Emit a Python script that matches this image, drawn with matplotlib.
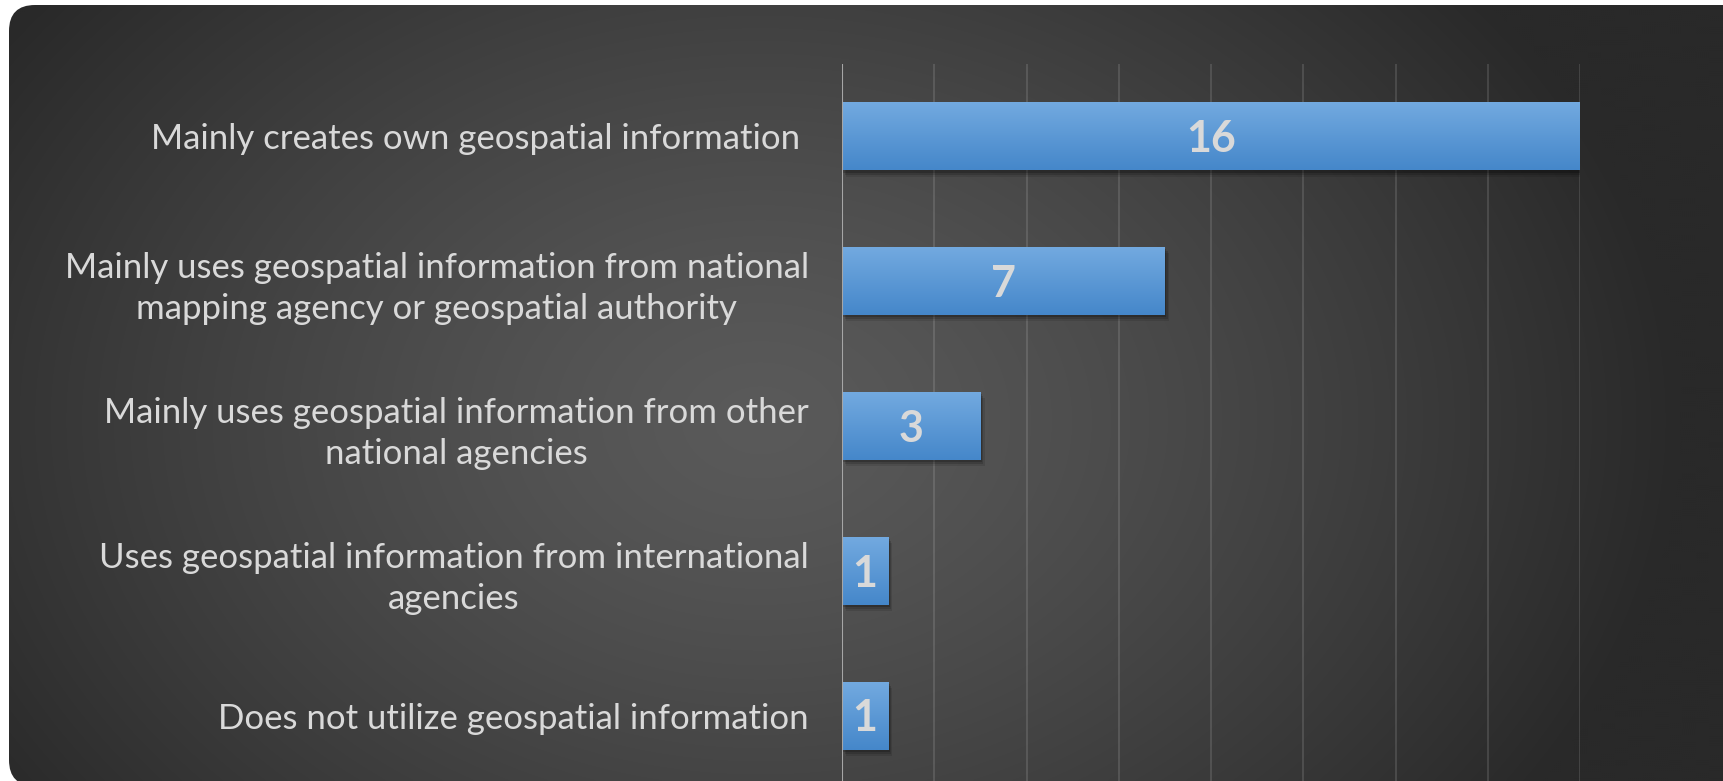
import numpy as np
import matplotlib
matplotlib.use("Agg")
import matplotlib.pyplot as plt
from matplotlib.patches import FancyBboxPatch
import matplotlib.patheffects as pe

# data
categories = [
    "Mainly creates own geospatial information ",
    "Mainly uses geospatial information from national\nmapping agency or geospatial authority",
    "Mainly uses geospatial information from other\nnational agencies",
    "Uses geospatial information from international\nagencies",
    "Does not utilize geospatial information",
]
counts = [16, 7, 3, 1, 1]

W, H = 1723, 781
plt.rcParams['font.family'] = ['Lato', 'DejaVu Sans']

fig = plt.figure(figsize=(W / 100, H / 100), dpi=100, facecolor='white')

# background panel with radial gradient
bg = fig.add_axes([0, 0, 1, 1], zorder=-5)
bg.set_xlim(0, W)
bg.set_ylim(H, 0)
bg.axis('off')
yy, xx = np.mgrid[0:H:2, 0:W:2]
d = np.sqrt(((xx - 760) / 920.0) ** 2 + ((yy - 420) / 680.0) ** 2)
f = np.clip(d, 0, 1) ** 1.3
shade = (90 - 49 * f) / 255.0
img = np.dstack([shade, shade, shade])
panel = FancyBboxPatch((9, 5), W + 60, H, boxstyle="round,pad=0,rounding_size=26",
                       facecolor='none', edgecolor='none', transform=bg.transData)
bg.add_patch(panel)
im = bg.imshow(img, extent=(0, W, H, 0), aspect='auto', interpolation='bilinear')
im.set_clip_path(panel)

# main chart
ax = fig.add_axes([842 / W, -7 / H, (1580 - 842) / W, 724 / H])
ax.patch.set_alpha(0)
y = np.arange(len(categories))
bar_h = 0.47
bars = ax.barh(y, counts, height=bar_h, color='#5b9bd5', zorder=3)

top_c = np.array([0x73, 0xaa, 0xe0]) / 255.0
bot_c = np.array([0x45, 0x87, 0xca]) / 255.0
t = np.linspace(0, 1, 64)[:, None, None]
grad = top_c * (1 - t) + bot_c * t
for b, v, yi in zip(bars, counts, y):
    b.set_path_effects([
        pe.SimplePatchShadow(offset=(1.0, -1.5), shadow_rgbFace='black', alpha=0.2),
        pe.SimplePatchShadow(offset=(2.0, -3.0), shadow_rgbFace='black', alpha=0.15),
        pe.SimplePatchShadow(offset=(3.0, -4.5), shadow_rgbFace='black', alpha=0.1),
        pe.Normal()])
    g = ax.imshow(grad, extent=(0, v, yi + bar_h / 2, yi - bar_h / 2),
                  origin='upper', aspect='auto', zorder=4, interpolation='bilinear')
    g.set_clip_path(b)
    ax.text(v / 2, yi + 0.02, str(v), ha='center', va='center', fontsize=31,
            fontweight='bold', color='#d9d9d9', zorder=6)

ax.set_xlim(0, 16)
ax.set_ylim(len(categories) - 0.5, -0.5)
ax.set_xticks(np.arange(2, 17, 2))
ax.xaxis.grid(True, color='white', alpha=0.12, linewidth=1.5, zorder=1)
ax.tick_params(axis='x', length=0, labelbottom=False)
ax.axvline(0, color='#a6a6a6', linewidth=1.5, zorder=5)
for s in ax.spines.values():
    s.set_visible(False)

ax.set_yticks(y)
ax.set_yticklabels(categories, fontsize=25, color='#d9d9d9')
ax.tick_params(axis='y', length=0, pad=24)
for lbl in ax.get_yticklabels():
    lbl.set_multialignment('center')
    lbl.set_linespacing(1.35)

fig.savefig('out.png', dpi=100, facecolor='white')
